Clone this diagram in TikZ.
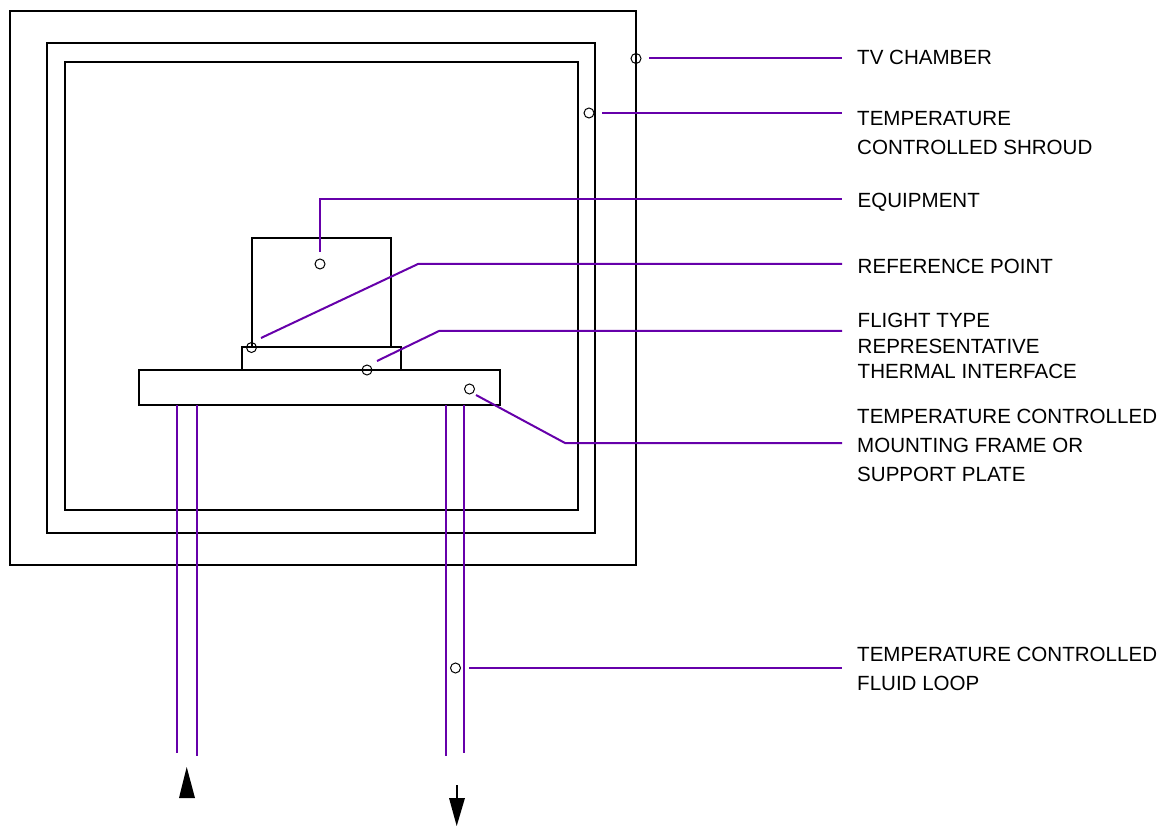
\documentclass[tikz,border=0pt]{standalone}
\usepackage{fontspec}
\setmainfont{Liberation Sans}
\definecolor{leadc}{HTML}{6600AA}
\tikzset{
  box/.style={draw=black,line width=2pt,fill=none,minimum width=0pt,inner sep=0pt},
  leader/.style={draw=leadc,line width=2pt},
  pt/.style={circle,draw=black,line width=1pt,minimum size=10pt,inner sep=0pt,fill=none},
  lab/.style={anchor=base west,inner sep=0pt,align=left,font=\fontsize{20.55}{29}\selectfont},
  labtight/.style={anchor=base west,inner sep=0pt,align=left,font=\fontsize{20.55}{25.7}\selectfont}
}
\begin{document}
\begin{tikzpicture}[x=1pt,y=-1pt]
\useasboundingbox (0,0) rectangle (1162,826);
% enclosures
\draw[box] (10,11) rectangle (636,565);
\draw[box] (47,43) rectangle (595,533);
\draw[box] (65,62) rectangle (578,510);
\draw[box] (252,238) rectangle (391,347);
\draw[box] (241.5,347) rectangle (401,369.5);
\draw[box] (139,370) rectangle (500,405);
% fluid pipes
\draw[leader] (177,405) -- (177,752.7);
\draw[leader] (197,405) -- (197,755.7);
\draw[leader] (446,405) -- (446,755.7);
\draw[leader] (463.5,405) -- (463.5,752.7);
% flow arrows
\fill (186.7,767) -- (195,798) -- (179,798) -- cycle;
\draw[line width=2pt] (456.7,785) -- (456.7,798);
\fill (449,798) -- (465,798) -- (456.7,826) -- cycle;
% points
\node[pt] (p1) at (636,58.5) {};
\node[pt] (p2) at (589,113) {};
\node[pt] (p3) at (320,264) {};
\node[pt] (p4) at (251.5,347.5) {};
\node[pt] (p5) at (367,370) {};
\node[pt] (p6) at (469.5,389) {};
\node[pt] (p7) at (455.5,668) {};
% labels (anchored at the baseline of the last line)
\node[lab] (l1) at (857,64.5) {TV CHAMBER};
\node[lab] (l2) at (857,154.7) {TEMPERATURE\\CONTROLLED SHROUD};
\node[lab] (l3) at (857.5,207.8) {EQUIPMENT};
\node[lab] (l4) at (857.5,273.7) {REFERENCE POINT};
\node[labtight] (l5) at (857.5,378.8) {FLIGHT TYPE\\REPRESENTATIVE\\THERMAL INTERFACE};
\node[lab] (l6) at (857,481) {TEMPERATURE CONTROLLED\\MOUNTING FRAME OR\\SUPPORT PLATE};
\node[lab] (l7) at (857,690.5) {TEMPERATURE CONTROLLED\\FLUID LOOP};
% connector ends
\coordinate (s1) at (649,58.5); \coordinate (e1) at (842,58.5);
\coordinate (s2) at (602,113); \coordinate (e2) at (842,113);
\coordinate (s3) at (320,252); \coordinate (b3) at (320,199.5); \coordinate (e3) at (842,199.5);
\coordinate (s4) at (261,338); \coordinate (b4) at (418,264); \coordinate (e4) at (842,264);
\coordinate (s5) at (377,361); \coordinate (b5) at (439,331); \coordinate (e5) at (842,331);
\coordinate (s6) at (476,395); \coordinate (b6) at (565,443); \coordinate (e6) at (842,443);
\coordinate (s7) at (469,668); \coordinate (e7) at (842,668);
\draw[leader] (s1) -- (e1);
\draw[leader] (s2) -- (e2);
\draw[leader] (s3) -- (b3) -- (e3);
\draw[leader] (s4) -- (b4) -- (e4);
\draw[leader] (s5) -- (b5) -- (e5);
\draw[leader] (s6) -- (b6) -- (e6);
\draw[leader] (s7) -- (e7);
\end{tikzpicture}
\end{document}
